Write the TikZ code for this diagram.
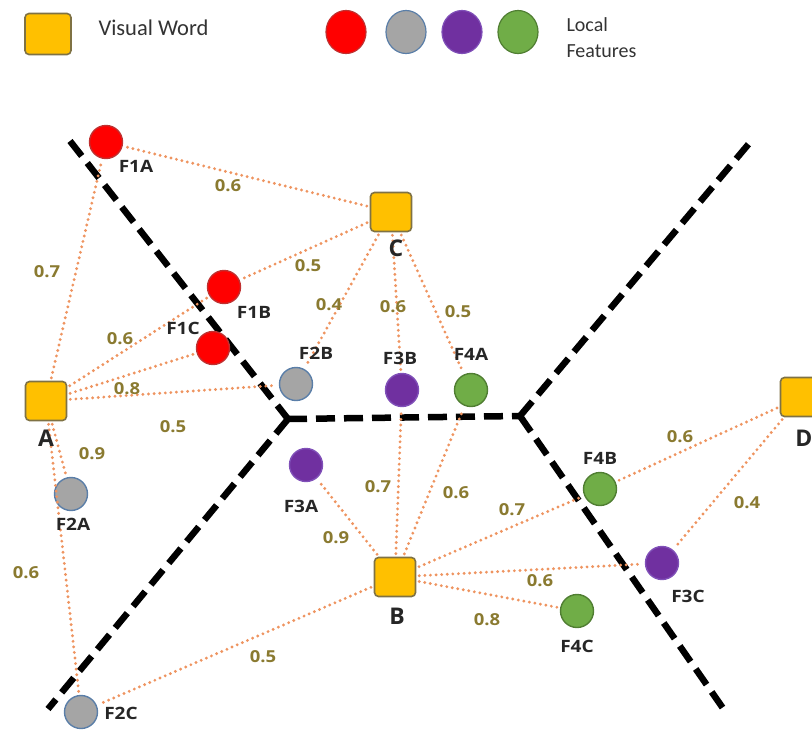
\documentclass[tikz,border=0pt]{standalone}
\usepackage{fontspec}
\usetikzlibrary{shapes.geometric}
\setmainfont{Open Sans}
\newfontfamily\legendfont{Carlito}
\newfontfamily\tagfont[FakeStretch=1.12]{Open Sans}
\definecolor{wordfill}{HTML}{FFC000}
\definecolor{wordedge}{HTML}{7F7244}
\definecolor{edgeorange}{HTML}{EE9460}
\definecolor{weightcol}{HTML}{8A7A30}
\definecolor{redfill}{HTML}{FF0000}
\definecolor{rededge}{HTML}{C03030}
\definecolor{grayfill}{HTML}{A5A5A5}
\definecolor{grayedge}{HTML}{5A7EA8}
\definecolor{purplefill}{HTML}{7030A0}
\definecolor{purpleedge}{HTML}{8050B8}
\definecolor{greenfill}{HTML}{70AD47}
\definecolor{greenedge}{HTML}{507E32}
\tikzset{
  word/.style={draw=wordedge, fill=wordfill, line width=1.6pt, rounded corners=4pt,
    minimum width=41pt, minimum height=39pt, inner sep=0pt},
  feat/.style={circle, line width=1.4pt, minimum size=33pt, inner sep=0pt},
  redf/.style={feat, draw=rededge, fill=redfill},
  grayf/.style={feat, draw=grayedge, fill=grayfill},
  purplef/.style={feat, draw=purpleedge, fill=purplefill},
  greenf/.style={feat, draw=greenedge, fill=greenfill},
  legf/.style={ellipse, minimum width=40pt, minimum height=43pt, inner sep=0pt, line width=1.2pt},
  flabel/.style={font=\tagfont\bfseries\fontsize{17}{17}\selectfont, text=black!85, inner sep=0pt},
  wlabel/.style={font=\bfseries\fontsize{23}{23}\selectfont, text=black!85, inner sep=0pt},
  wt/.style={font=\tagfont\bfseries\fontsize{16.5}{16.5}\selectfont, text=weightcol, inner sep=0pt},
  link/.style={draw=edgeorange, line width=3.2pt, line cap=round,
    dash pattern=on 0pt off 5.6pt, shorten <=3pt, shorten >=3pt},
  border/.style={draw=black, line width=6.5pt, dash pattern=on 19pt off 9pt},
}
\begin{document}
\begin{tikzpicture}[x=1pt,y=-1pt]
\useasboundingbox (0,0) rectangle (812,731);

% legend
\node[word, minimum width=46pt, minimum height=41pt] (legWord) at (48,34) {};
\node[anchor=west, font=\legendfont\fontsize{22.5}{22.5}\selectfont, text=black!80] (legWordTxt) at (95,28) {Visual Word};
\node[legf, draw=rededge, fill=redfill] (legRed) at (346,32) {};
\node[legf, draw=grayedge, fill=grayfill] (legGray) at (406,32) {};
\node[legf, draw=purpleedge, fill=purplefill] (legPurple) at (462,32) {};
\node[legf, draw=greenedge, fill=greenfill] (legGreen) at (518,32) {};
\node[anchor=west, align=left, font=\legendfont\fontsize{20}{26}\selectfont, text=black!80] (legFeatTxt) at (563,38) {Local\\Features};

% cell borders
\coordinate (jL) at (288,419);
\coordinate (jR) at (520,416);
\coordinate (bTL) at (70,141);
\coordinate (bBL) at (48,709);
\coordinate (bTR) at (752,140);
\coordinate (bBR) at (727,714);
\draw[border] (bTL) -- (jL);
\draw[border] (jL) -- (jR);
\draw[border] (jL) -- (bBL);
\draw[border] (jR) -- (bTR);
\draw[border] (jR) -- (bBR);

% visual words
\node[word] (A) at (46,401) {};
\node[word] (B) at (395,577) {};
\node[word] (C) at (391,212) {};
\node[word] (D) at (801,397) {};

% local features
\node[redf] (F1A) at (106,142) {};
\node[redf] (F1B) at (224,287) {};
\node[redf] (F1C) at (213,348) {};
\node[grayf] (F2A) at (71,494) {};
\node[grayf] (F2B) at (296,384) {};
\node[grayf] (F2C) at (81,712) {};
\node[purplef] (F3A) at (306,465) {};
\node[purplef] (F3B) at (402,390) {};
\node[purplef] (F3C) at (662,563) {};
\node[greenf] (F4A) at (471,390) {};
\node[greenf] (F4B) at (600,489) {};
\node[greenf] (F4C) at (577,611) {};

% links
\draw[link] (A) -- (F1A);
\draw[link] (A) -- (F1B);
\draw[link] (A) -- (F1C);
\draw[link] (A) -- (F2B);
\draw[link] (A) -- (F2A);
\draw[link] (A) -- (F2C);
\draw[link] (C) -- (F1A);
\draw[link] (C) -- (F1B);
\draw[link] (C) -- (F2B);
\draw[link] (C) -- (F3B);
\draw[link] (C) -- (F4A);
\draw[link] (B) -- (F3A);
\draw[link] (B) -- (F3B);
\draw[link] (B) -- (F4A);
\draw[link] (B) -- (F4B);
\draw[link] (B) -- (F3C);
\draw[link] (B) -- (F4C);
\draw[link] (B) -- (F2C);
\draw[link] (D) -- (F4B);
\draw[link] (D) -- (F3C);

% word labels
\node[wlabel] (lA) at (46,438) {A};
\node[wlabel] (lB) at (397,616) {B};
\node[wlabel] (lC) at (396,248) {C};
\node[wlabel] (lD) at (804,438) {D};

% feature labels
\node[flabel] (lF1A) at (136,166) {F1A};
\node[flabel] (lF1B) at (254,312) {F1B};
\node[flabel] (lF1C) at (183,328) {F1C};
\node[flabel] (lF2A) at (73,524) {F2A};
\node[flabel] (lF2B) at (316,353) {F2B};
\node[flabel] (lF2C) at (121,713) {F2C};
\node[flabel] (lF3A) at (301,506) {F3A};
\node[flabel] (lF3B) at (400,358) {F3B};
\node[flabel] (lF3C) at (688,596) {F3C};
\node[flabel] (lF4A) at (471,354) {F4A};
\node[flabel] (lF4B) at (600,458) {F4B};
\node[flabel] (lF4C) at (577,646) {F4C};

% weights
\node[wt] (w1) at (228,186) {0.6};
\node[wt] (w2) at (47,272) {0.7};
\node[wt] (w3) at (308,266) {0.5};
\node[wt] (w4) at (329,305) {0.4};
\node[wt] (w5) at (393,307) {0.6};
\node[wt] (w6) at (458,312) {0.5};
\node[wt] (w7) at (120,339) {0.6};
\node[wt] (w8) at (127,389) {0.8};
\node[wt] (w9) at (173,427) {0.5};
\node[wt] (w10) at (92,454) {0.9};
\node[wt] (w11) at (26,573) {0.6};
\node[wt] (w12) at (336,538) {0.9};
\node[wt] (w13) at (378,487) {0.7};
\node[wt] (w14) at (456,493) {0.6};
\node[wt] (w15) at (512,510) {0.7};
\node[wt] (w16) at (540,581) {0.6};
\node[wt] (w17) at (487,620) {0.8};
\node[wt] (w18) at (263,657) {0.5};
\node[wt] (w19) at (680,437) {0.6};
\node[wt] (w20) at (747,503) {0.4};
\end{tikzpicture}
\end{document}
